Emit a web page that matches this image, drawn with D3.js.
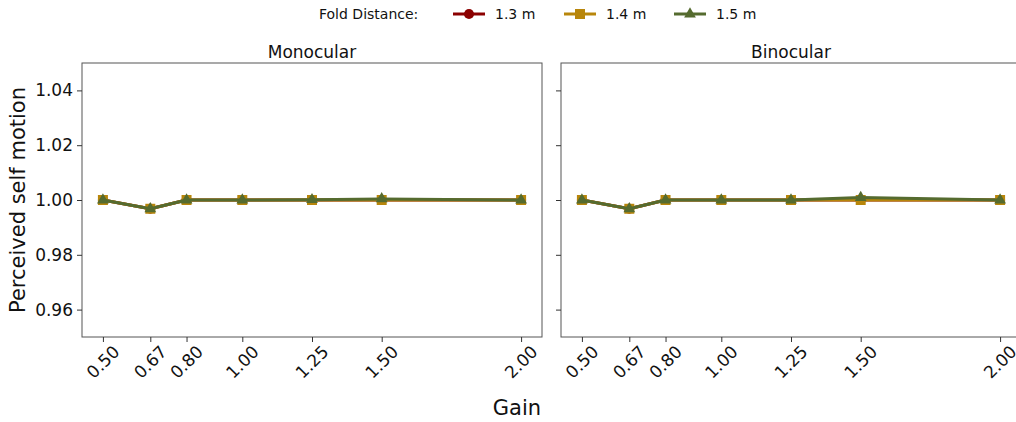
<!DOCTYPE html>
<html>
<head>
<meta charset="utf-8">
<script src="https://cdn.jsdelivr.net/npm/d3@7"></script>
<style>
  html, body { margin: 0; padding: 0; background: #fff; }
  svg { display: block; font-family: "DejaVu Sans", sans-serif; }
</style>
</head>
<body>
<svg id="chart" width="1016" height="422"></svg>
<script>
// Gain conditions on the x axis
const gains = [0.50, 0.67, 0.80, 1.00, 1.25, 1.50, 2.00];
const gainLabels = ["0.50", "0.67", "0.80", "1.00", "1.25", "1.50", "2.00"];
const yTicks = [0.96, 0.98, 1.00, 1.02, 1.04];
const panels = ["Monocular", "Binocular"];
const foldLabels = ["1.3 m", "1.4 m", "1.5 m"];

// Perceived self motion per fold distance, Monocular viewing
const mono13 = [1.0000, 0.9968, 1.0000, 1.0000, 1.0000, 1.0000, 1.0000];
const mono14 = [1.0000, 0.9968, 1.0000, 1.0000, 1.0000, 1.0000, 1.0000];
const mono15 = [1.0000, 0.9968, 1.0000, 1.0000, 1.0001, 1.0004, 1.0000];

// Perceived self motion per fold distance, Binocular viewing
const bino13 = [1.0000, 0.9968, 1.0000, 1.0000, 1.0000, 1.0000, 1.0000];
const bino14 = [1.0000, 0.9968, 1.0000, 1.0000, 1.0000, 1.0000, 1.0000];
const bino15 = [1.0000, 0.9968, 1.0000, 1.0000, 1.0000, 1.0009, 1.0000];

const panelSeries = [[mono13, mono14, mono15], [bino13, bino14, bino15]];
const colors = ["#8b0000", "#b8860b", "#556b2f"];
const shapes = [d3.symbolCircle, d3.symbolSquare, d3.symbolTriangle];
const shapeSizes = [80, 100, 60];

const svg = d3.select("#chart");
const panelLeft = [82, 561];
const panelW = 460;
const plotTop = 63, plotBottom = 337;

const y = d3.scaleLinear().domain([0.95, 1.05]).range([plotBottom, plotTop]);

panels.forEach((name, p) => {
  const x0 = panelLeft[p];
  const x = d3.scaleLinear().domain([0.425, 2.075]).range([x0, x0 + panelW]);
  const g = svg.append("g");

  // frame
  g.append("rect")
    .attr("x", x0).attr("y", plotTop)
    .attr("width", panelW).attr("height", plotBottom - plotTop)
    .attr("fill", "none").attr("stroke", "#555").attr("stroke-width", 1);

  // x axis ticks
  const xa = g.append("g").attr("transform", `translate(0,${plotBottom})`)
    .call(d3.axisBottom(x).tickValues(gains).tickSize(5).tickFormat(""));
  xa.select(".domain").remove();
  xa.selectAll("line").attr("stroke", "#333");
  gains.forEach((v, i) => {
    g.append("text")
      .attr("transform", `translate(${x(v)},${plotBottom + 25}) rotate(-45)`)
      .attr("text-anchor", "middle")
      .attr("dominant-baseline", "central")
      .attr("font-size", 17).attr("fill", "#111")
      .text(gainLabels[i]);
  });

  // y axis ticks
  const ya = g.append("g").attr("transform", `translate(${x0},0)`)
    .call(d3.axisLeft(y).tickValues(yTicks).tickSize(5)
      .tickFormat(p === 0 ? d3.format(".2f") : ""));
  ya.select(".domain").remove();
  ya.selectAll("line").attr("stroke", "#333");
  ya.selectAll("text").attr("font-size", 17).attr("fill", "#111")
    .attr("font-family", "DejaVu Sans, sans-serif").attr("x", -9);

  // panel title
  g.append("text")
    .attr("x", x0 + panelW / 2).attr("y", 58)
    .attr("text-anchor", "middle").attr("font-size", 17).attr("fill", "#111")
    .text(name);

  // series lines and markers
  const line = d3.line().x((d, i) => x(gains[i])).y(d => y(d));
  panelSeries[p].forEach((vals, s) => {
    g.append("path").datum(vals)
      .attr("d", line).attr("fill", "none")
      .attr("stroke", colors[s]).attr("stroke-width", 3)
      .attr("stroke-linejoin", "round");
    g.selectAll(null).data(vals).enter().append("path")
      .attr("transform", (d, i) => `translate(${x(gains[i])},${y(d)})`)
      .attr("d", d3.symbol().type(shapes[s]).size(shapeSizes[s]))
      .attr("fill", colors[s]);
  });
});

// axis labels
svg.append("text")
  .attr("transform", `translate(25,200) rotate(-90)`)
  .attr("text-anchor", "middle").attr("font-size", 21).attr("fill", "#111")
  .text("Perceived self motion");
svg.append("text")
  .attr("x", 517).attr("y", 415)
  .attr("text-anchor", "middle").attr("font-size", 21).attr("fill", "#111")
  .text("Gain");

// legend
const lg = svg.append("g");
lg.append("text").attr("x", 319).attr("y", 19)
  .attr("font-size", 14).attr("fill", "#111").text("Fold Distance:");
const legendX = [453, 564, 674];
foldLabels.forEach((lab, s) => {
  const lx = legendX[s];
  lg.append("line").attr("x1", lx).attr("x2", lx + 32)
    .attr("y1", 14).attr("y2", 14)
    .attr("stroke", colors[s]).attr("stroke-width", 3);
  lg.append("path")
    .attr("transform", `translate(${lx + 16},14)`)
    .attr("d", d3.symbol().type(shapes[s]).size(shapeSizes[s]))
    .attr("fill", colors[s]);
  lg.append("text").attr("x", lx + 42).attr("y", 19)
    .attr("font-size", 14).attr("fill", "#111").text(lab);
});
</script>
</body>
</html>
